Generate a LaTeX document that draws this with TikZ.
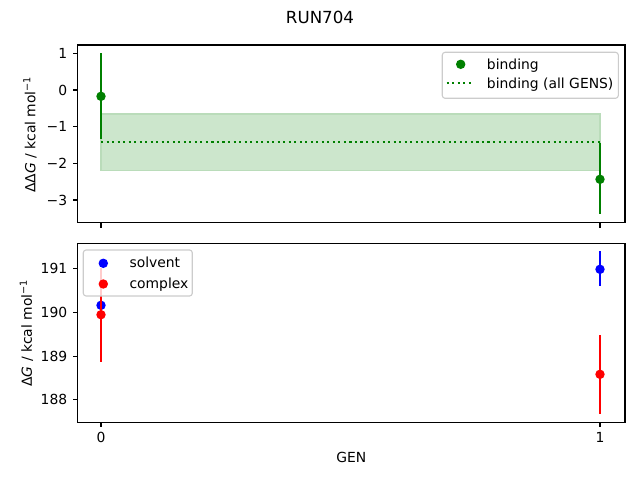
\documentclass[tikz,border=0pt]{standalone}
\usepackage{fontspec}
\setmainfont{DejaVu Sans}
\definecolor{mplgreen}{RGB}{0,128,0}
\definecolor{mplblue}{RGB}{0,0,255}
\definecolor{mplred}{RGB}{255,0,0}
\definecolor{bandfill}{RGB}{204,230,204}
\definecolor{bandedge}{RGB}{186,220,186}
\definecolor{legedge}{RGB}{204,204,204}
\tikzset{
  frame/.style={draw=black,line width=0.8pt},
  tickmark/.style={draw=black,line width=0.8pt},
  ticklab/.style={inner sep=0pt,font=\fontsize{10}{12}\selectfont},
  ebar/.style={line width=1.5pt},
  dot/.style={circle,inner sep=0pt,minimum size=6.8pt},
  legbox/.style={draw=legedge,line width=0.8pt,fill=white,fill opacity=0.8,rounded corners=2pt},
  legtext/.style={inner sep=0pt,anchor=base west,font=\fontsize{10}{12}\selectfont},
  dotline/.style={line width=1.5pt,dash pattern=on 1.5pt off 2.475pt}
}
\begin{document}
\begin{tikzpicture}[x=0.72pt,y=-0.72pt]
\useasboundingbox (0,0) rectangle (640,480);
% title
\node[inner sep=0pt,font=\fontsize{12}{14}\selectfont] (title) at (320,17) {RUN704};

% ===== top panel =====
\fill[bandfill,draw=bandedge,line width=0.8pt] (101,114) rectangle (600,170.3);
\draw[mplgreen,dotline] (101,141.7) -- (600,141.7);
\draw[mplgreen,ebar] (101,53.3) -- (101,139.3);
\node[dot,fill=mplgreen] (b0) at (101,96.3) {};
\draw[mplgreen,ebar] (600,142.7) -- (600,214.3);
\node[dot,fill=mplgreen] (b1) at (600,179.3) {};
\draw[frame] (77.5,45) rectangle (625,222.7);
% y ticks
\foreach \yy/\lab in {53.3/1,90/0,126.7/−1,163.3/−2,200/−3}{
  \draw[tickmark] (77.5,\yy) -- ++(-4.86,0);
  \node[ticklab,anchor=east] at (67.5,\yy) {\lab};
}
\foreach \xx in {101,600}{\draw[tickmark] (\xx,222.7) -- ++(0,4.86);}
\node[rotate=90,inner sep=0pt,font=\fontsize{10}{12}\selectfont] (ylabtop) at (30,134.5) {ΔΔ{\itshape G} / kcal mol\textsuperscript{−1}};
% legend top
\draw[legbox] (442.3,52.3) rectangle (618.3,98.3);
\node[dot,fill=mplgreen] (lb) at (460.7,64.3) {};
\node[legtext] (lbt) at (486.7,69) {binding};
\draw[mplgreen,dotline] (446.7,83.3) -- (474.3,83.3);
\node[legtext] (lbt2) at (486.7,88) {binding (all GENS)};

% ===== bottom panel =====
\draw[mplblue,ebar] (101,300) -- (101,310.5);
\node[dot,fill=mplblue] (s0) at (101,305.3) {};
\draw[mplred,ebar] (101,267.7) -- (101,361.7);
\node[dot,fill=mplred] (c0) at (101,314.7) {};
\draw[mplblue,ebar] (600,251) -- (600,285.7);
\node[dot,fill=mplblue] (s1) at (600,269.3) {};
\draw[mplred,ebar] (600,335) -- (600,413.7);
\node[dot,fill=mplred] (c1) at (600,374.3) {};
\draw[frame] (77.5,243.3) rectangle (625,422.3);
\foreach \yy/\lab in {268.8/191,312.5/190,356.2/189,399.8/188}{
  \draw[tickmark] (77.5,\yy) -- ++(-4.86,0);
  \node[ticklab,anchor=east] at (67.5,\yy) {\lab};
}
\foreach \xx/\lab in {101/0,600/1}{
  \draw[tickmark] (\xx,422.3) -- ++(0,4.86);
  \node[ticklab,anchor=base] at (\xx,442) {\lab};
}
\node[inner sep=0pt,anchor=base,font=\fontsize{10}{12}\selectfont] (xlab) at (351.25,462) {GEN};
\node[rotate=90,inner sep=0pt,font=\fontsize{10}{12}\selectfont] (ylabbot) at (26.5,333) {Δ{\itshape G} / kcal mol\textsuperscript{−1}};
% legend bottom
\draw[legbox] (83.3,250) rectangle (192.3,296);
\node[dot,fill=mplblue] (ls) at (103.3,263.3) {};
\node[legtext] (lst) at (129.3,267.5) {solvent};
\node[dot,fill=mplred] (lc) at (103.3,284) {};
\node[legtext] (lct) at (129.3,288) {complex};
\end{tikzpicture}
\end{document}
